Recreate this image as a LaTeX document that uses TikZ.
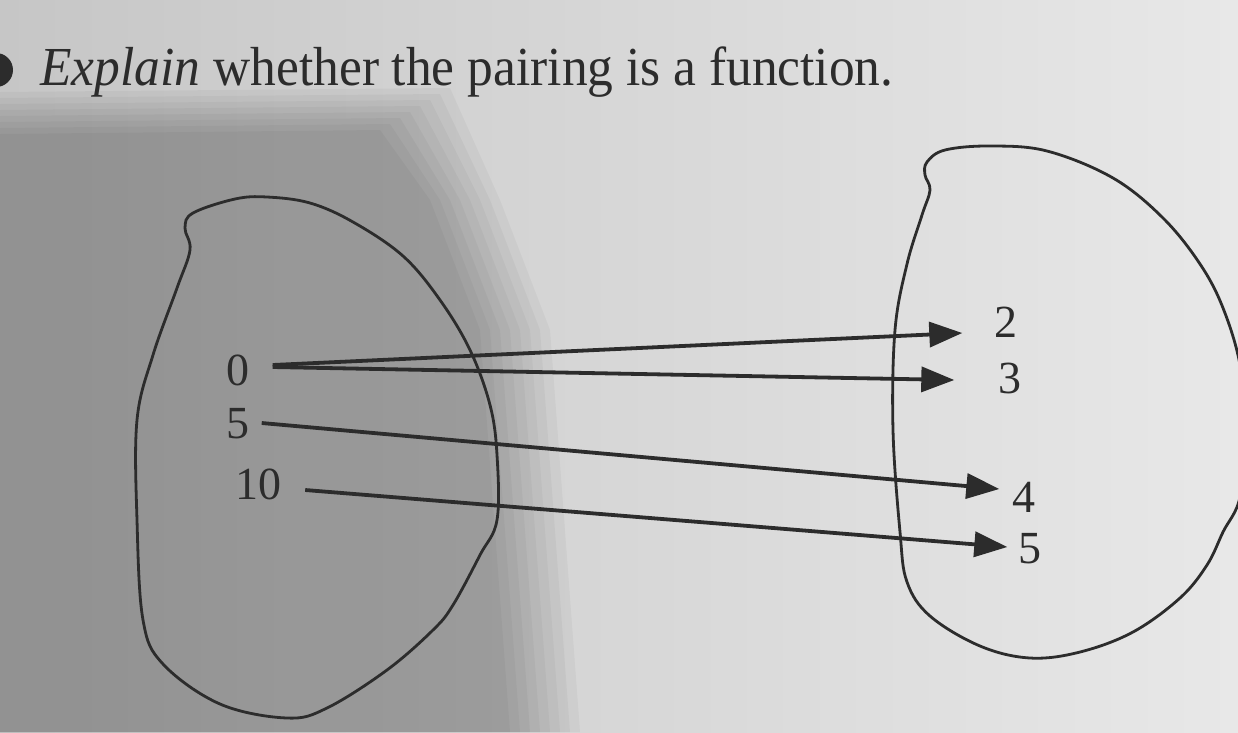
\documentclass[tikz,border=0pt]{standalone}
\usepackage{fontspec}
\setmainfont{Liberation Serif}
\usepackage{graphicx}
\usetikzlibrary{arrows.meta,positioning}
\definecolor{ink}{HTML}{2C2C2C}
\definecolor{paperl}{HTML}{C6C6C6}
\definecolor{paperr}{HTML}{E8E8E8}

\begin{document}
\begin{tikzpicture}[x=1pt,y=-1pt,
      set/.style={draw=ink,line width=2.8pt},
      elem/.style={inner sep=0pt,text=ink,font=\fontsize{46}{52}\selectfont},
      map/.style={-{Triangle[length=33pt,width=25pt]},draw=ink,line width=3.8pt}]
      % paper and the shadow over it
      \useasboundingbox (0,0) rectangle (1238,732);
      \shade[left color=paperl,right color=paperr] (0,0) rectangle (1238,732);
      \foreach \k in {0,...,7}
        \fill[black,opacity=0.035]
          (0,92+6*\k) -- (450-10*\k,88+6*\k) -- (500-10*\k,200) -- (550-10*\k,330)
          -- (580-10*\k,732) -- (0,732) -- cycle;
      \fill[ink] (-4,70) circle (17);

      \node[anchor=base west,text=ink] (title) at (37,85)
        {\resizebox{853pt}{\height}{\fontsize{55}{66}\selectfont\textit{Explain} whether the pairing is a function.}};

      % the two sets
      \draw[set] plot[smooth cycle,tension=0.6] coordinates {
        (193,213) (235,199) (267,197) (310,203) (353,222) (403,256) (440,300)
        (470,350) (490,405) (497,455) (497,520) (480,555) (453,605) (433,630)
        (387,670) (327,708) (287,718) (220,704) (163,664) (143,620) (137,520)
        (137,420) (153,355) (177,288) (190,250) (185,228)};
      \draw[set] plot[smooth cycle,tension=0.6] coordinates {
        (927,162) (945,150) (990,146) (1047,151) (1113,178) (1163,218) (1200,264)
        (1223,308) (1240,365) (1245,430) (1240,497) (1223,532) (1207,565)
        (1180,598) (1133,632) (1080,652) (1030,658) (980,646) (930,616) (907,582)
        (900,532) (893,430) (895,330) (907,264) (922,215) (930,190) (925,175)};

      % domain
      \node[elem] (n0) at (238,370) {0};
      \node[elem] (n5) at (238,424) {5};
      \node[elem] (n10) at (258,484) {10};
      % range
      \node[elem] (m2) at (1006,322) {2};
      \node[elem] (m3) at (1010,378) {3};
      \node[elem] (m4) at (1024,497) {4};
      \node[elem] (m5) at (1030,549) {5};

      \draw[map] ([xshift=23pt,yshift=5pt]n0.east) -- ([xshift=-32pt,yshift=-11pt]m2.west);
      \draw[map] ([xshift=23pt,yshift=3pt]n0.east) -- ([xshift=-44pt,yshift=-2pt]m3.west);
      \draw[map] ([xshift=12pt,yshift=1pt]n5.east) -- ([xshift=-13pt,yshift=8pt]m4.west);
      \draw[map] ([xshift=24pt,yshift=-6pt]n10.east) -- ([xshift=-11pt,yshift=2pt]m5.west);
    \end{tikzpicture}
\end{document}
